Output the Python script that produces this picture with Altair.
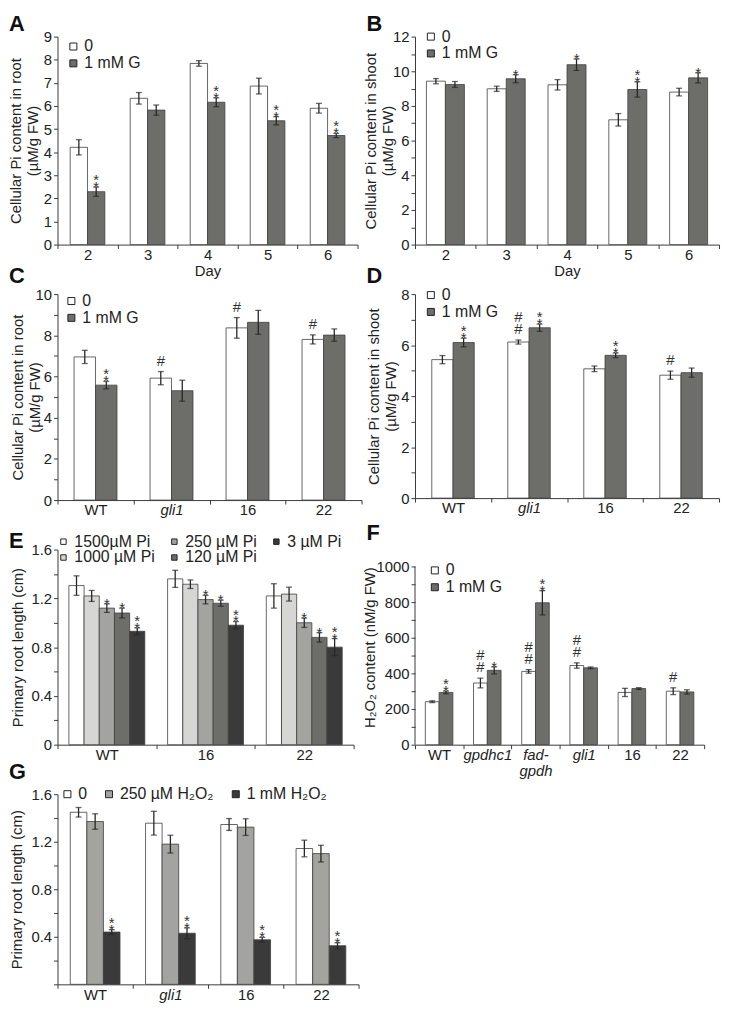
import altair as alt
import pandas as pd

FONT = "Liberation Sans"
INK = "#262626"
AX = "#3a3a3a"

WHITE = "#ffffff"
G_GREY = "#6d6d69"

# ---------------- Panel A : root, days ----------------
A_groups = ["2", "3", "4", "5", "6"]
A_series = ["0", "1 mM G"]
A_vals = [[4.21, 6.33, 7.84, 6.86, 5.90],
          [2.29, 5.82, 6.16, 5.36, 4.72]]
A_errs = [[0.33, 0.25, 0.12, 0.34, 0.21],
          [0.20, 0.22, 0.19, 0.18, 0.09]]
A_sig = [["", "", "", "", ""],
         ["**", "", "**", "**", "**"]]

# ---------------- Panel B : shoot, days ----------------
B_groups = ["2", "3", "4", "5", "6"]
B_series = ["0", "1 mM G"]
B_vals = [[9.43, 8.99, 9.22, 7.20, 8.80],
          [9.24, 9.57, 10.38, 8.95, 9.62]]
B_errs = [[0.15, 0.15, 0.30, 0.36, 0.22],
          [0.17, 0.23, 0.33, 0.44, 0.29]]
B_sig = [["", "", "", "", ""],
         ["", "*", "*", "**", "*"]]

# ---------------- Panel C : root, genotypes ----------------
C_groups = ["WT", "gli1", "16", "22"]
C_series = ["0", "1 mM G"]
C_vals = [[6.95, 5.92, 8.36, 7.80],
          [5.58, 5.31, 8.63, 8.01]]
C_errs = [[0.32, 0.32, 0.50, 0.22],
          [0.18, 0.51, 0.58, 0.30]]
C_sig = [["", "#", "#", "#"],
         ["**", "", "", ""]]

# ---------------- Panel D : shoot, genotypes ----------------
D_groups = ["WT", "gli1", "16", "22"]
D_series = ["0", "1 mM G"]
D_vals = [[5.43, 6.12, 5.07, 4.82],
          [6.10, 6.68, 5.60, 4.92]]
D_errs = [[0.16, 0.08, 0.11, 0.16],
          [0.17, 0.14, 0.09, 0.18]]
D_sig = [["", "##", "", "#"],
         ["**", "**", "**", ""]]

# ---------------- Panel E : primary root length vs Pi ----------------
E_groups = ["WT", "16", "22"]
E_series = ["1500µM Pi", "1000 µM Pi", "250 µM Pi", "120 µM Pi", "3 µM Pi"]
E_legend = ["1500µM Pi", "250 µM Pi", "3 µM Pi", "1000 µM Pi", "120 µM Pi"]
E_colors = ["#ffffff", "#a3a3a0", "#3a3a3a", "#d6d6d4", "#6d6d69"]
E_vals = [[1.305, 1.36, 1.22],
          [1.22, 1.316, 1.235],
          [1.12, 1.19, 1.00],
          [1.08, 1.16, 0.88],
          [0.93, 0.98, 0.80]]
E_errs = [[0.08, 0.07, 0.10],
          [0.045, 0.035, 0.057],
          [0.035, 0.035, 0.038],
          [0.04, 0.025, 0.038],
          [0.028, 0.03, 0.07]]
E_sig = [["", "", ""],
         ["", "", ""],
         ["*", "*", "*"],
         ["*", "*", "*"],
         ["**", "**", "**"]]

# ---------------- Panel F : H2O2 content ----------------
F_groups = ["WT", "gpdhc1", "fad-gpdh", "gli1", "16", "22"]
F_series = ["0", "1 mM G"]
F_vals = [[241, 346, 411, 444, 293, 300],
          [293, 417, 796, 431, 315, 296]]
F_errs = [[5, 27, 10, 15, 23, 19],
          [8, 20, 68, 5, 5, 12]]
F_sig = [["", "##", "##", "##", "", "#"],
         ["**", "*", "**", "", "", ""]]

# ---------------- Panel G : primary root length vs H2O2 ----------------
G_groups = ["WT", "gli1", "16", "22"]
G_series = ["0", "250 µM H₂O₂", "1 mM H₂O₂"]
G_colors = ["#ffffff", "#a3a3a0", "#3a3a3a"]
G_vals = [[1.448, 1.356, 1.345, 1.143],
          [1.37, 1.18, 1.323, 1.10],
          [0.44, 0.43, 0.375, 0.325]]
G_errs = [[0.04, 0.10, 0.05, 0.07],
          [0.065, 0.075, 0.07, 0.07],
          [0.02, 0.045, 0.02, 0.025]]
G_sig = [["", "", "", ""],
         ["", "", "", ""],
         ["**", "**", "**", "**"]]

ITALIC = ["gli1", "gpdhc1", "fad-gpdh"]


def build_df(groups, series, vals, errs, sigs):
    rows = []
    for si, s in enumerate(series):
        for gi, g in enumerate(groups):
            v = vals[si][gi]
            e = errs[si][gi]
            sg = sigs[si][gi]
            first = sg[:1]
            second = sg[1:2]
            rows.append({"group": g, "series": s, "value": v,
                         "lo": v - e, "hi": v + e,
                         "star1": first if first == "*" else "",
                         "star2": second if second == "*" else "",
                         "hash1": first if first == "#" else "",
                         "hash2": second if second == "#" else ""})
    return pd.DataFrame(rows)


def panel(groups, series, vals, errs, sigs, legend_order, colors, ymax,
          yvalues, ylabel_expr, ytitle, title_x, width, height, letter,
          letter_y, legend_x, legend_y, pad_outer, xtitle=None,
          legend_cols=1, legend_dir="vertical", label_size=16,
          symbol_size=50, col_pad=10, row_pad=1, domain_top=None,
          xlabel_expr=None):
    df = build_df(groups, series, vals, errs, sigs)
    x_axis_kw = dict(labelAngle=0, tickBand="extent", tickSize=4,
                     labelPadding=-1, labelFontSize=15, labelOverlap=False,
                     labelLineHeight=16, titlePadding=1)
    if xtitle is not None:
        x_axis_kw["title"] = xtitle
    else:
        x_axis_kw["title"] = None
    if any(g in ITALIC for g in groups):
        x_axis_kw["labelFontStyle"] = {
            "condition": {"test": "indexof(['gli1','gpdhc1','fad-gpdh'], datum.value) >= 0",
                          "value": "italic"},
            "value": "normal"}
    if xlabel_expr is not None:
        x_axis_kw["labelExpr"] = xlabel_expr
    x = alt.X("group:N", sort=groups,
              scale=alt.Scale(paddingInner=0, paddingOuter=0),
              axis=alt.Axis(**x_axis_kw))
    xo = alt.XOffset("series:N", sort=series,
                     scale=alt.Scale(paddingInner=0, paddingOuter=pad_outer))
    yscale = alt.Scale(domain=[0, ymax], nice=False, zero=True)
    y_axis = alt.Axis(values=yvalues, labelExpr=ylabel_expr, title=ytitle,
                      grid=False, tickSize=4, labelPadding=2,
                      labelOverlap=False, titleX=title_x,
                      titleBaseline="middle", titleLineHeight=17,
                      domain=(domain_top is None))

    base = alt.Chart(df)
    leg = alt.Legend(title=None, orient="none", legendX=legend_x,
                     legendY=legend_y, direction=legend_dir,
                     columns=legend_cols, symbolType="square",
                     symbolSize=symbol_size, symbolStrokeColor="#222",
                     symbolStrokeWidth=1, labelFontSize=label_size,
                     labelFont=FONT, labelColor="#222", labelOffset=3,
                     rowPadding=row_pad, columnPadding=col_pad, padding=0)
    bars = base.mark_bar(stroke="#3f3f3f", strokeWidth=0.8).encode(
        x=x, xOffset=xo,
        y=alt.Y("value:Q", scale=yscale, axis=y_axis),
        fill=alt.Fill("series:N",
                      scale=alt.Scale(domain=legend_order, range=colors),
                      legend=leg))
    rule = base.mark_rule(color=INK, strokeWidth=1.3).encode(
        x=x, xOffset=xo, y=alt.Y("lo:Q", scale=yscale, axis=y_axis), y2="hi:Q")
    cap_hi = base.mark_tick(color=INK, size=6, thickness=1.3).encode(
        x=x, xOffset=xo, y=alt.Y("hi:Q", scale=yscale, axis=y_axis))
    cap_lo = base.mark_tick(color=INK, size=6, thickness=1.3).encode(
        x=x, xOffset=xo, y=alt.Y("lo:Q", scale=yscale, axis=y_axis))
    layers = [bars, rule, cap_hi, cap_lo]
    for field, dy in (("star1", 8), ("star2", 1), ("hash1", -3), ("hash2", -15)):
        layers.append(base.mark_text(baseline="bottom", fontSize=15,
                                     color="#333", dy=dy).encode(
            x=x, xOffset=xo, y=alt.Y("hi:Q", scale=yscale, axis=y_axis),
            text=f"{field}:N"))
    if domain_top is not None:
        dom = alt.Chart(pd.DataFrame({"y0": [0], "y1": [domain_top]})).mark_rule(
            color=AX, strokeWidth=1).encode(
            y=alt.Y("y0:Q", scale=yscale, axis=y_axis), y2="y1:Q",
            x=alt.value(0))
        layers.append(dom)
    tag = alt.Chart(pd.DataFrame({"letter": [letter]})).mark_text(
        align="left", baseline="alphabetic", fontSize=22, fontWeight="bold",
        font=FONT, color="#111").encode(
        text="letter:N", x=alt.value(-49), y=alt.value(letter_y))
    layers.append(tag)
    return alt.layer(*layers).properties(width=width, height=height)


EVEN = "datum.value % 2 == 0 ? datum.label : ''"

pA = panel(A_groups, A_series, A_vals, A_errs, A_sig, A_series,
           [WHITE, G_GREY], 9, [0, 1, 2, 3, 4, 5, 6, 7, 8, 9], "datum.label",
           ["Cellular Pi content in root", "(µM/g FW)"], -42, 303, 210,
           "A", -6, 8, 2, 0.73, xtitle="Day")
pB = panel(B_groups, B_series, B_vals, B_errs, B_sig, B_series,
           [WHITE, G_GREY], 12, [0, 1, 2, 3, 4, 5, 6, 7, 8, 9, 10, 11, 12], EVEN,
           ["Cellular Pi content in shoot", "(µM/g FW)"], -45, 307, 210,
           "B", -6, 8, -8, 0.6, xtitle="Day")
pC = panel(C_groups, C_series, C_vals, C_errs, C_sig, C_series,
           [WHITE, G_GREY], 10, [0, 1, 2, 3, 4, 5, 6, 7, 8, 9, 10], EVEN,
           ["Cellular Pi content in root", "(µM/g FW)"], -40, 307, 208,
           "C", -11, 6, -1, 0.77)
pD = panel(D_groups, D_series, D_vals, D_errs, D_sig, D_series,
           [WHITE, G_GREY], 8, [0, 1, 2, 3, 4, 5, 6, 7, 8], EVEN,
           ["Cellular Pi content in shoot", "(µM/g FW)"], -42, 307, 206,
           "D", -11, 8, -7, 0.79)
pE = panel(E_groups, E_series, E_vals, E_errs, E_sig, E_legend, E_colors,
           1.6, [0, 0.2, 0.4, 0.6, 0.8, 1.0, 1.2, 1.4, 1.6],
           "round(datum.value * 10) % 4 == 0 ? (datum.value == 0 ? '0' : format(datum.value, '.1f')) : ''",
           "Primary root length (cm)", -40, 299, 197, "E", -2,
           -2, -16, 0.75, legend_cols=3, legend_dir="horizontal",
           symbol_size=30, col_pad=11, row_pad=-2)
pF = panel(F_groups, F_series, F_vals, F_errs, F_sig, F_series,
           [WHITE, G_GREY], 1094.4,
           [0, 100, 200, 300, 400, 500, 600, 700, 800, 900, 1000],
           "round(datum.value) % 200 == 0 ? format(datum.value, 'd') : ''",
           "H₂O₂ content (nM/g FW)", -46, 292, 197, "F", -10,
           12, 13, 0.75, domain_top=1000,
           xlabel_expr="datum.value == 'fad-gpdh' ? ['fad-', 'gpdh'] : datum.label")
pG = panel(G_groups, G_series, G_vals, G_errs, G_sig, G_series, G_colors,
           1.6, [0, 0.2, 0.4, 0.6, 0.8, 1.0, 1.2, 1.4, 1.6],
           "round(datum.value * 10) % 4 == 0 && datum.value > 0 ? format(datum.value, '.1f') : ''",
           "Primary root length (cm)", -41, 304, 192, "G", -15,
           2, -8, 0.77, legend_cols=3, legend_dir="horizontal",
           symbol_size=50, col_pad=14)

chart = alt.concat(pA, pB, pC, pD, pE, pF, pG, columns=2,
                   spacing={"row": 50, "column": 54}, bounds="flush",
                   padding={"left": 0, "top": 0, "right": 2, "bottom": 2}
                   ).resolve_scale(fill="independent", xOffset="independent")
chart = chart.configure(font=FONT).configure_view(stroke=None).configure_axis(
    labelFont=FONT, titleFont=FONT, labelFontSize=15, titleFontSize=15,
    titleFontWeight="normal", labelColor="#222", titleColor="#222",
    domainColor=AX, tickColor=AX, grid=False)

chart.save("out.html", embed_options={"renderer": "svg", "actions": False})
